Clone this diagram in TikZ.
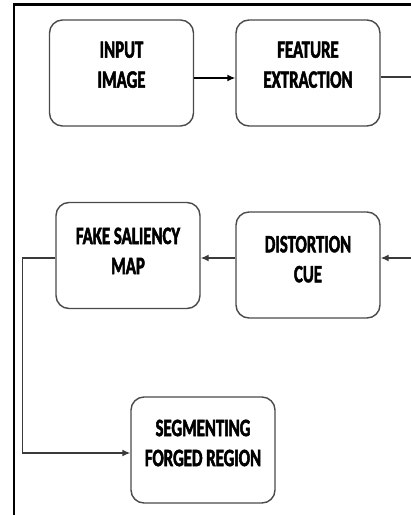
\documentclass[tikz,border=0pt]{standalone}
\usepackage{fontspec}
\usetikzlibrary{arrows.meta}
\newfontfamily\boxfont[FakeStretch=0.67,FakeBold=2,UprightFont={Carlito Bold},BoldFont={Carlito Bold}]{Carlito}
\definecolor{edgegray}{HTML}{4A4A4A}
\definecolor{wiregray}{HTML}{3A3A3A}
\tikzset{
  stage/.style={draw=edgegray, line width=1.4pt, rounded corners=13pt,
    minimum width=144pt, minimum height=106pt, inner sep=0pt, fill=white},
  caption/.style={font=\boxfont\fontsize{25pt}{30pt}\selectfont,
    align=center, inner sep=0pt, text=black},
  wire/.style={draw=wiregray, line width=1.4pt},
  flow/.style={wire, -{Latex[length=8pt,width=7pt]}},
  frame/.style={draw=black, line width=2.5pt}
}
\begin{document}
\begin{tikzpicture}[x=1pt, y=-1pt]
  \useasboundingbox (0,0) rectangle (411,515);
  % outer frame (left and top edges)
  \coordinate (fb) at (13.8,515);
  \coordinate (ft) at (13.8,4.5);
  \coordinate (fr) at (411,4.5);
  \draw[frame] (fb) -- (ft) -- (fr);

  % stages
  \node[stage] (inp) at (121.5,73) {};
  \node[caption] (inpt) at (121.5,64.7) {INPUT\\IMAGE};
  \node[stage] (feat) at (308,73) {};
  \node[caption] (featt) at (308,64.7) {FEATURE\\EXTRACTION};
  \node[stage] (fake) at (128,255.5) {};
  \node[caption] (faket) at (128,250.8) {FAKE SALIENCY\\MAP};
  \node[stage] (dist) at (308,265) {};
  \node[caption] (distt) at (308,259.2) {DISTORTION\\CUE};
  \node[stage] (seg) at (203,450) {};
  \node[caption] (segt) at (203,443) {SEGMENTING\\FORGED REGION};

  % connector ends at the right margin and the left bend
  \coordinate (outr) at (411,77);
  \coordinate (inr) at (411,258);
  \coordinate (bend) at (22.5,258);

  % yshift acts on the page: negative moves down, positive moves up
  \draw[flow, draw=black] ([yshift=-5pt]inp.east) -- ([yshift=-5pt]feat.west);
  \draw[wire] ([yshift=-4pt]feat.east) -- (outr);
  \draw[flow] (inr) -- ([yshift=7pt]dist.east);
  \draw[flow] ([yshift=7pt]dist.west) -- ([yshift=-2.5pt]fake.east);
  \draw[flow] ([yshift=-2.5pt]fake.west) -- (bend) |- ([yshift=-3pt]seg.west);
\end{tikzpicture}
\end{document}
